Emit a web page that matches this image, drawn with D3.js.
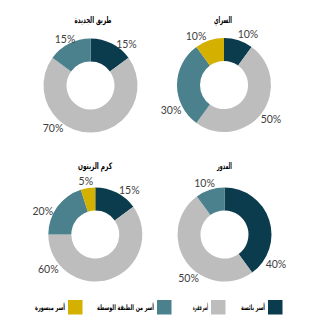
<!DOCTYPE html>
<html><head><meta charset="utf-8">
<script src="https://cdn.jsdelivr.net/npm/d3@7"></script>
<style>body{margin:0;background:#fff}svg{display:block}</style>
</head><body>
<svg id="c" width="325" height="325"></svg>
<script>
// Data
const categories = ["أسر بائسة", "أسر فقيرة", "أسر من الطبقة الوسطة", "أسر ميسورة"];
const regions = ["طريق الجديدة", "السراي", "كرم الزيتون", "المدور"];
const valuesTariqJdideh = [15, 70, 15, 0];
const valuesSerail = [10, 50, 30, 10];
const valuesKarmZeitoun = [15, 60, 20, 5];
const valuesMdawar = [40, 50, 10, 0];
const seriesValues = [valuesTariqJdideh, valuesSerail, valuesKarmZeitoun, valuesMdawar];

// Layout (not data)
const colors = ["#0b3c4d", "#4a818d", "#bdbdbd", "#d4b000"];
const colorOrder = [0, 2, 1, 3]; // category -> color index
const centers = [[90.5, 85.5], [224, 85], [95.3, 234.5], [224.5, 234.5]];
const titleX = [93, 223, 95, 224.5];
const titleY = [20, 19.5, 165.5, 165.5];
const titleW = [37, 18, 34, 15];
// label offsets relative to donut center, per category
const labelOffsets = [
  [[36, -42], [-37.5, 42], [-25.5, -46.5], null],
  [[24, -51], [47, 34], [-53, 25], [-28, -49]],
  [[34, -44.5], [-47, 34.5], [-52.5, -23.5], [-9.5, -54]],
  [[51.5, 29], [-36, 43], [-20, -52], null]
];
const rOuter = 47, rInner = 24;

const svg = d3.select("#c");
const pie = d3.pie().sort(null).value(d => d);
const arc = d3.arc().innerRadius(rInner).outerRadius(rOuter);

function fitText(sel, w) {
  const len = sel.node().getComputedTextLength();
  if (len > w) sel.attr("textLength", w).attr("lengthAdjust", "spacingAndGlyphs");
}

seriesValues.forEach((vals, i) => {
  const g = svg.append("g").attr("transform", `translate(${centers[i][0]},${centers[i][1]})`);
  const arcs = pie(vals);
  g.selectAll("path").data(arcs.filter(a => a.value > 0)).join("path")
    .attr("d", arc)
    .attr("fill", d => colors[colorOrder[d.index]]);
  arcs.forEach(a => {
    const off = labelOffsets[i][a.index];
    if (a.value > 0 && off) {
      g.append("text").attr("x", off[0]).attr("y", off[1])
        .attr("text-anchor", "middle").attr("dominant-baseline", "central")
        .attr("font-family", "Lato, 'Open Sans', sans-serif").attr("font-size", 10.5)
        .attr("fill", "#404040").text(a.value + "%");
    }
  });
  const t = svg.append("text").attr("x", titleX[i]).attr("y", titleY[i])
    .attr("text-anchor", "middle").attr("dominant-baseline", "central")
    .attr("font-family", "'DejaVu Sans', sans-serif").attr("font-weight", "bold")
    .attr("font-size", 9).attr("fill", "#000").text(regions[i]);
  fitText(t, titleW[i]);
});

// Legend
const legendSwatchX = [268, 211, 157, 68];
const legendTextW = [24, 15, 57, 30];
categories.forEach((c, k) => {
  svg.append("rect").attr("x", legendSwatchX[k]).attr("y", 300).attr("width", 14.5).attr("height", 14.5)
    .attr("fill", colors[colorOrder[k]]);
  const t = svg.append("text").attr("x", legendSwatchX[k] - 3).attr("y", 307.5)
    .attr("text-anchor", "end").attr("dominant-baseline", "central")
    .attr("font-family", "'DejaVu Sans', sans-serif").attr("font-weight", "bold")
    .attr("font-size", 7.5).attr("fill", "#000").text(c);
  fitText(t, legendTextW[k]);
});
</script>
</body></html>
